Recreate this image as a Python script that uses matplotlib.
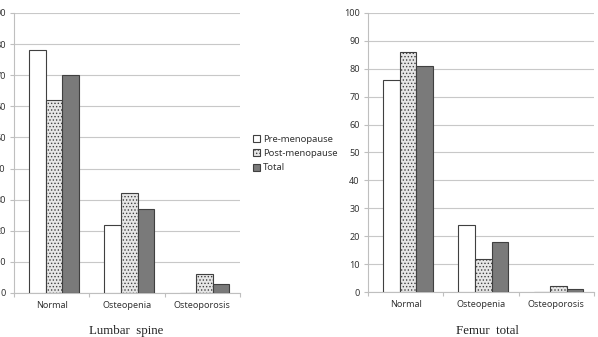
import matplotlib
matplotlib.use("Agg")
import matplotlib.pyplot as plt
import numpy as np

categories = ["Normal", "Osteopenia", "Osteoporosis"]
series = ["Pre-menopause", "Post-menopause", "Total"]
lumbar_pre = [78, 22, 0]
lumbar_post = [62, 32, 6]
lumbar_total = [70, 27, 3]
femur_pre = [76, 24, 0]
femur_post = [86, 12, 2]
femur_total = [81, 18, 1]

W, H = 598, 337
fig = plt.figure(figsize=(W / 100, H / 100), dpi=100)
fig.patch.set_facecolor("white")

styles = [
    dict(facecolor="white", edgecolor="#404040", hatch=None),
    dict(facecolor="#e6e6e6", edgecolor="#404040", hatch="....."),
    dict(facecolor="#7a7a7a", edgecolor="#404040", hatch=None),
]
plt.rcParams["hatch.color"] = "#9a9a9a"
plt.rcParams["hatch.linewidth"] = 0.6

tick_font = dict(family=["Noto Sans", "DejaVu Sans"], size=6.5)


def draw(ax, data, ymax):
    x = np.arange(len(categories))
    bw = 0.22
    handles = []
    for i, (vals, st) in enumerate(zip(data, styles)):
        b = ax.bar(x + 0.03 + (i - 1) * bw, vals, bw, facecolor=st["facecolor"],
                   edgecolor=st["edgecolor"], hatch=st["hatch"], linewidth=0.8,
                   zorder=3, label=series[i])
        handles.append(b)
    ax.set_xlim(-0.5, len(categories) - 0.5)
    ax.set_ylim(0, ymax)
    ax.set_yticks(np.arange(0, ymax + 1, 10))
    ax.yaxis.grid(True, color="#c8c8c8", linewidth=0.8, zorder=0)
    ax.set_axisbelow(True)
    for s in ["top", "right"]:
        ax.spines[s].set_visible(False)
    for s in ["left", "bottom"]:
        ax.spines[s].set_color("#bfbfbf")
        ax.spines[s].set_linewidth(0.8)
    ax.set_xticks(np.arange(-0.5, len(categories), 1.0))
    ax.set_xticklabels([])
    ax.set_xticks(x, minor=True)
    ax.set_xticklabels(categories, minor=True, **tick_font, color="#333333")
    ax.tick_params(axis="x", which="major", length=3, color="#bfbfbf")
    ax.tick_params(axis="x", which="minor", length=0, pad=6)
    ax.tick_params(axis="y", length=3, color="#bfbfbf", pad=3)
    for lab in ax.get_yticklabels():
        lab.set_fontfamily(["Noto Sans", "DejaVu Sans"])
        lab.set_fontsize(6.5)
        lab.set_color("#333333")
    return handles


ax1 = fig.add_axes([14 / W, (H - 293) / H, 226 / W, 280 / H])
handles = draw(ax1, [lumbar_pre, lumbar_post, lumbar_total], 90)
ax2 = fig.add_axes([368 / W, (H - 292) / H, 226 / W, 279 / H])
draw(ax2, [femur_pre, femur_post, femur_total], 100)

fig.text(126 / W, 1 - 331 / H, "Lumbar  spine", ha="center", va="center",
         family="Liberation Serif", size=9.3, color="#222222")
fig.text(487 / W, 1 - 331 / H, "Femur  total", ha="center", va="center",
         family="Liberation Serif", size=9.3, color="#222222")

leg = fig.legend(handles, series, loc="upper left",
                 bbox_to_anchor=(253 / W, 1 - 135 / H), frameon=False,
                 handlelength=0.75, handleheight=0.75, handletextpad=0.3,
                 labelspacing=0.55, borderaxespad=0, borderpad=0,
                 prop=dict(family=["Noto Sans", "DejaVu Sans"], size=6.8))
for t in leg.get_texts():
    t.set_color("#333333")

fig.savefig("out.png", dpi=100)
